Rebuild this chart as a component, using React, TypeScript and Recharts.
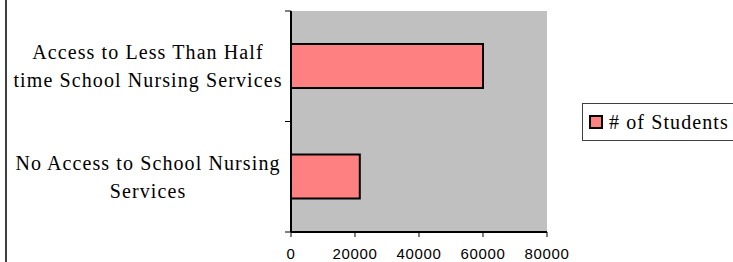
import React from "react";
import {
  BarChart,
  Bar,
  XAxis,
  YAxis,
  CartesianGrid,
  Legend,
} from "recharts";

const categories = [
  ["Access to Less Than Half", "time School Nursing Services"],
  ["No Access to School Nursing", "Services"],
];
const students = [60000, 21500];
const xTicks = [0, 20000, 40000, 60000, 80000];

const data = categories.map((lines, i) => ({
  name: lines.join(" "),
  lines,
  students: students[i],
}));

const SERIF = '"Liberation Serif", "Times New Roman", serif';
const SANS = '"Liberation Sans", Arial, sans-serif';

// category label split over two lines, plus the tick marks at the band edges
const CategoryTick = (props: any) => {
  const { y, payload, index } = props;
  const half = payload.offset || 55;
  const row = data.find((d) => d.name === payload.value);
  const lines = row ? row.lines : [payload.value];
  return (
    <g>
      <line x1={285} x2={291} y1={y - half} y2={y - half} stroke="#000" />
      {index === categories.length - 1 && (
        <line x1={285} x2={291} y1={y + half} y2={y + half} stroke="#000" />
      )}
      <text
        x={148}
        y={y}
        textAnchor="middle"
        fontFamily={SERIF}
        fontSize={20}
        letterSpacing={1.1}
        fill="#000"
      >
        <tspan x={148} dy={-7}>{lines[0]}</tspan>
        {lines[1] && (
          <tspan x={148} dy={28}>{lines[1]}</tspan>
        )}
      </text>
    </g>
  );
};

const LegendBox = () => (
  <div
    style={{
      width: 160,
      height: 38,
      border: "1px solid #404040",
      background: "#fff",
      display: "flex",
      alignItems: "center",
      fontFamily: SERIF,
      fontSize: 20,
      letterSpacing: 1.1,
      color: "#000",
      boxSizing: "border-box",
      whiteSpace: "nowrap",
    }}
  >
    <span
      style={{
        display: "inline-block",
        width: 10,
        height: 10,
        background: "#FF8080",
        border: "2px solid #000",
        marginLeft: 6,
        marginRight: 6,
        flexShrink: 0,
      }}
    />
    # of Students
  </div>
);

export default function App() {
  return (
    <div
      style={{
        position: "fixed",
        left: 0,
        top: 0,
        width: 733,
        height: 262,
        background: "#fff",
        overflow: "hidden",
      }}
    >
      <div
        style={{
          position: "absolute",
          left: 5,
          top: 0,
          width: 0,
          height: 262,
          borderLeft: "2px solid #404040",
        }}
      />
      <BarChart
        width={733}
        height={262}
        data={data}
        layout="vertical"
        margin={{ top: 11, right: 186, bottom: 0, left: 0 }}
        barSize={44}
      >
        <CartesianGrid fill="#C0C0C0" horizontal={false} vertical={false} />
        <XAxis
          type="number"
          domain={[0, 80000]}
          ticks={xTicks}
          interval={0}
          height={30}
          axisLine={{ stroke: "#000", strokeWidth: 2 }}
          tickLine={{ stroke: "#000" }}
          tickSize={5}
          tick={{ fontFamily: SANS, fontSize: 15, fill: "#000", letterSpacing: 0.7 }}
          tickMargin={11}
        />
        <XAxis
          xAxisId="frame"
          type="number"
          orientation="top"
          domain={[0, 80000]}
          height={0}
          tick={false}
          tickLine={false}
          axisLine={{ stroke: "#808080", strokeWidth: 2 }}
        />
        <YAxis
          type="category"
          dataKey="name"
          width={291}
          axisLine={{ stroke: "#000", strokeWidth: 2 }}
          tickLine={false}
          tick={<CategoryTick />}
          interval={0}
        />
        <YAxis
          yAxisId="frame"
          type="category"
          dataKey="name"
          orientation="right"
          width={0}
          tick={false}
          tickLine={false}
          axisLine={{ stroke: "#808080", strokeWidth: 2 }}
        />
        <Legend
          layout="horizontal"
          verticalAlign="middle"
          align="center"
          wrapperStyle={{ position: "absolute", left: 582, top: 103, width: 160 }}
          content={() => <LegendBox />}
        />
        <Bar
          dataKey="students"
          name="# of Students"
          fill="#FF8080"
          stroke="#000"
          strokeWidth={2}
          isAnimationActive={false}
        />
      </BarChart>
    </div>
  );
}
